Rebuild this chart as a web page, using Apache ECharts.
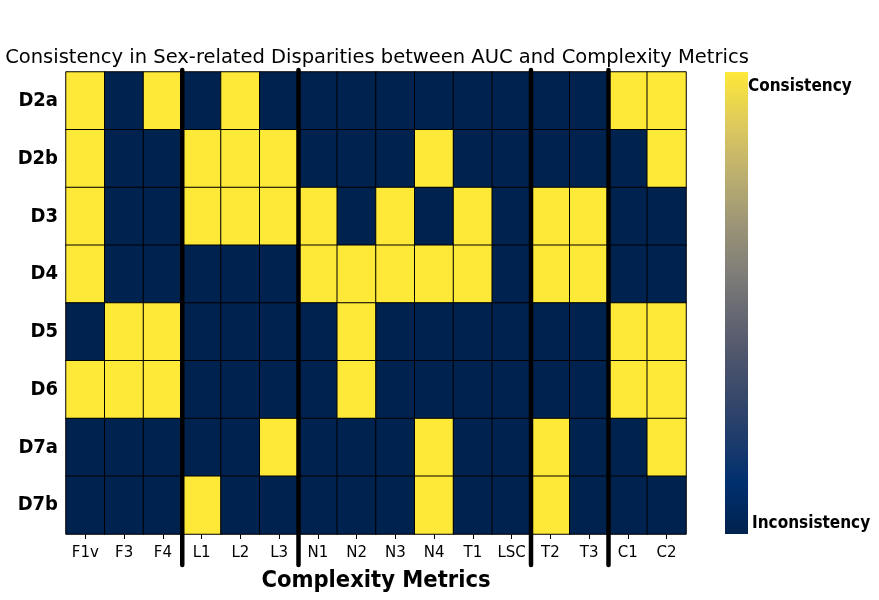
<!DOCTYPE html>
<html>
<head>
<meta charset="utf-8">
<script src="https://cdn.jsdelivr.net/npm/echarts@6/dist/echarts.min.js"></script>
<style>html,body{margin:0;padding:0;background:#fff;}#c{width:879px;height:600px;}</style>
</head>
<body>
<div id="c"></div>
<script>
const metrics = ['F1v','F3','F4','L1','L2','L3','N1','N2','N3','N4','T1','LSC','T2','T3','C1','C2'];
const datasets = ['D2a','D2b','D3','D4','D5','D6','D7a','D7b'];
// 1 = Consistency, 0 = Inconsistency
const D2a = [1,0,1,0,1,0,0,0,0,0,0,0,0,0,1,1];
const D2b = [1,0,0,1,1,1,0,0,0,1,0,0,0,0,0,1];
const D3  = [1,0,0,1,1,1,1,0,1,0,1,0,1,1,0,0];
const D4  = [1,0,0,0,0,0,1,1,1,1,1,0,1,1,0,0];
const D5  = [0,1,1,0,0,0,0,1,0,0,0,0,0,0,1,1];
const D6  = [1,1,1,0,0,0,0,1,0,0,0,0,0,0,1,1];
const D7a = [0,0,0,0,0,1,0,0,0,1,0,0,1,0,0,1];
const D7b = [0,0,0,1,0,0,0,0,0,1,0,0,1,0,0,0];
const rows = [D2a, D2b, D3, D4, D5, D6, D7a, D7b];
// group separators placed before these metric indices
const separators = [3, 6, 12, 14];
const colorbarLabels = ['Consistency', 'Inconsistency'];

const cells = [];
rows.forEach((r, yi) => r.forEach((v, xi) => cells.push([xi, yi, v])));

const cividis = ['#00224E','#00306F','#233E6C','#414D6B','#5E6170','#7C7B78','#9B9477','#BCAF6F','#DECA5C','#FEE838'];

const chart = echarts.init(document.getElementById('c'));
const GL = 66, GT = 72, GW = 620, GH = 462;
chart.setOption({
  animation: false,
  title: {
    text: 'Consistency in Sex-related Disparities between AUC and Complexity Metrics',
    left: 372, top: 43, textAlign: 'center',
    textStyle: {fontFamily: 'DejaVu Sans', fontWeight: 'normal', fontSize: 19.5, color: '#000'}
  },
  grid: {left: GL, top: GT, width: GW, height: GH, containLabel: false},
  xAxis: [{
    type: 'category', data: metrics, position: 'bottom',
    name: 'Complexity Metrics', nameLocation: 'middle', nameGap: 35,
    nameTextStyle: {fontFamily: 'DejaVu Sans Condensed', fontWeight: 'bold', fontSize: 23.5, color: '#000'},
    axisLine: {show: false},
    axisTick: {show: true, alignWithLabel: true, length: 5, lineStyle: {color: '#000'}},
    axisLabel: {fontFamily: 'DejaVu Sans', fontSize: 15, color: '#000', margin: 12, interval: 0},
    splitLine: {show: false}
  }, {
    type: 'value', min: 0, max: metrics.length, show: false
  }],
  yAxis: {
    type: 'category', data: datasets, inverse: true,
    axisLine: {show: false}, axisTick: {show: false},
    axisLabel: {fontFamily: 'DejaVu Sans Condensed', fontWeight: 'bold', fontSize: 20, color: '#000', margin: 8},
    splitLine: {show: false}
  },
  visualMap: {
    type: 'continuous', min: 0, max: 1, show: false,
    inRange: {color: cividis}
  },
  series: [{
    type: 'heatmap', data: cells, xAxisIndex: 0, yAxisIndex: 0,
    itemStyle: {borderColor: '#000', borderWidth: 1},
    emphasis: {disabled: true}
  }]
});

const graphics = separators.map(s => {
  const x = chart.convertToPixel({xAxisIndex: 1}, s);
  return {
    type: 'line', z: 100,
    shape: {x1: x, y1: GT - 2, x2: x, y2: GT + GH + 31},
    style: {stroke: '#000', lineWidth: 4.5, lineCap: 'round'}
  };
});
// colorbar
graphics.push({
  type: 'rect', z: 100,
  shape: {x: 725, y: GT, width: 23, height: GH},
  style: {
    fill: new echarts.graphic.LinearGradient(0, 1, 0, 0,
      cividis.map((c, i) => ({offset: i / (cividis.length - 1), color: c})))
  }
});
graphics.push({
  type: 'text', left: 748, top: 78, z: 100,
  style: {text: colorbarLabels[0], font: 'bold 17px "DejaVu Sans Condensed"', fill: '#000'}
});
graphics.push({
  type: 'text', left: 752, top: 515, z: 100,
  style: {text: colorbarLabels[1], font: 'bold 17px "DejaVu Sans Condensed"', fill: '#000'}
});
chart.setOption({graphic: graphics});
</script>
</body>
</html>
